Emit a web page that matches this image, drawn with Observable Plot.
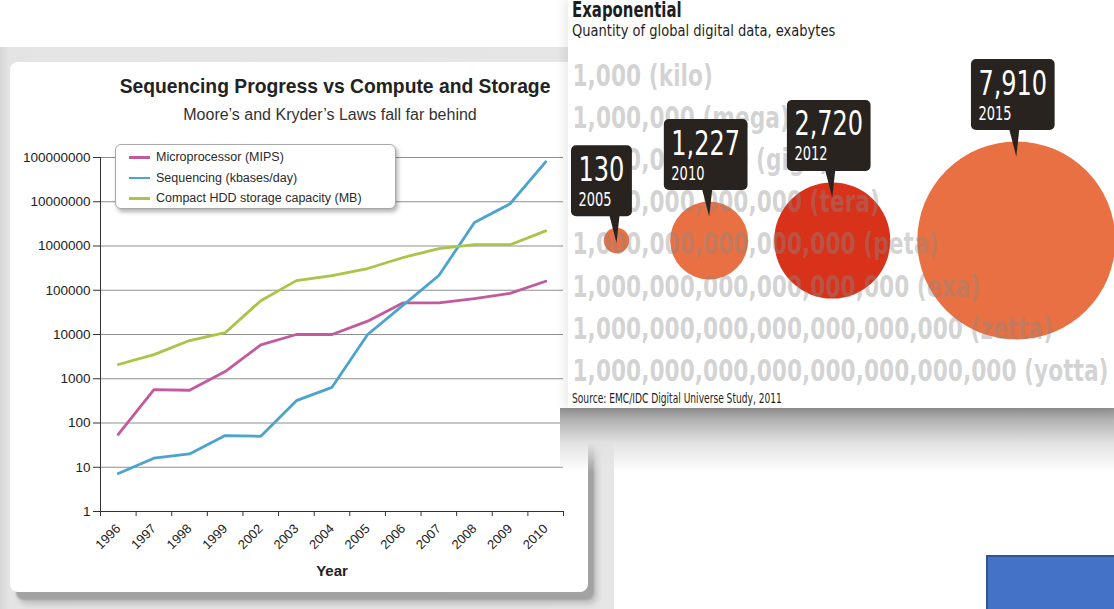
<!DOCTYPE html>
<html>
<head>
<meta charset="utf-8">
<script src="https://cdn.jsdelivr.net/npm/d3@7"></script>
<script src="https://cdn.jsdelivr.net/npm/@observablehq/plot@0.6"></script>
<style>
html,body{margin:0;padding:0;background:#fff;}
#page{position:relative;width:1114px;height:609px;overflow:hidden;background:#fff;font-family:"Liberation Sans",Arial,Helvetica,sans-serif;}
.abs{position:absolute;}
#graybg{left:0;top:47px;width:614px;height:562px;background:linear-gradient(90deg,#d4d4d4 0,#e4e4e4 9px,#e6e6e6 100%);}
#card{left:10px;top:62px;width:578px;height:530px;background:#fff;border-radius:8px;box-shadow:6px 8px 2px #a2a2a2, 9px 12px 6px rgba(0,0,0,.18);}
#ltitle{left:35px;top:76px;width:600px;text-align:center;font-weight:bold;font-size:19.3px;color:#222;white-space:nowrap;}
#lsub{left:30px;top:106px;width:600px;text-align:center;font-size:16px;color:#333;white-space:nowrap;}
#legend{left:115px;top:144px;width:279px;height:63px;background:#fff;border:1px solid #a8a8a8;border-radius:6px;box-shadow:2px 3px 4px rgba(0,0,0,.3);}
.li{position:absolute;left:40px;font-size:12.5px;color:#2a2a2a;white-space:nowrap;line-height:14px;}
.sw{position:absolute;left:13px;width:21px;height:2.6px;}
#year{left:282px;top:562px;width:100px;text-align:center;font-weight:bold;font-size:15px;color:#222;}
#rpanel{left:568px;top:0;width:546px;height:408px;background:#fff;box-shadow:-5px 0 8px rgba(0,0,0,.07);}
#rshadow{left:560px;top:408px;width:554px;height:64px;background:linear-gradient(#8e8e8e 0,#b4b4b4 20%,#e2e2e2 55%,rgba(255,255,255,0) 100%);}
#rtitle{left:572px;top:-2px;font-weight:bold;font-size:21px;color:#1e1e1e;white-space:nowrap;transform-origin:0 0;transform:scaleX(0.79);}
#rsub{left:572px;top:21px;font-size:16.5px;color:#1e1e1e;white-space:nowrap;transform-origin:0 0;transform:scaleX(0.88);}
#rsource{left:572px;top:390px;font-size:13.5px;color:#1e1e1e;white-space:nowrap;transform-origin:0 0;transform:scaleX(0.75);}
.narrow{font-family:"Liberation Sans Narrow","DejaVu Sans Condensed","Arial Narrow",sans-serif;}
#blue{left:986px;top:555px;width:140px;height:60px;background:#4472c4;border:2px solid #2f5597;}
</style>
</head>
<body>
<div id="page">
  <div id="graybg" class="abs"></div>
  <div id="card" class="abs"></div>
  <div id="leftplot" class="abs" style="left:0;top:140px;"></div>
  <div id="ltitle" class="abs"></div>
  <div id="lsub" class="abs"></div>
  <div id="legend" class="abs"></div>
  <div id="year" class="abs"></div>
  <div id="rshadow" class="abs"></div>
  <div id="rpanel" class="abs"></div>
  <div id="rightplot" class="abs" style="left:568px;top:0;"></div>
  <div id="rtitle" class="abs narrow"></div>
  <div id="rsub" class="abs narrow"></div>
  <div id="rsource" class="abs narrow"></div>
  <div id="blue" class="abs"></div>
</div>
<script>
// ---------- LEFT CHART DATA ----------
const leftTitle = "Sequencing Progress vs Compute and Storage";
const leftSubtitle = "Moore\u2019s and Kryder\u2019s Laws fall far behind";
const xTitle = "Year";
const years = ["1996","1997","1998","1999","2002","2003","2004","2005","2006","2007","2008","2009","2010"];
const mips       = [55, 570, 550, 1450, 5800, 10000, 10000, 20000, 52000, 52000, 65000, 85000, 160000];
const sequencing = [7.2, 16, 20, 52, 50, 320, 640, 10000, 46000, 215000, 3400000, 9000000, 80000000];
const hdd        = [2100, 3500, 7300, 11000, 58000, 165000, 215000, 310000, 550000, 870000, 1070000, 1070000, 2200000];
const seriesNames = ["Microprocessor (MIPS)", "Sequencing (kbases/day)", "Compact HDD storage capacity (MB)"];
const seriesColors = ["#c25a9e", "#4ba3ce", "#a9c447"];
const yTicks = [1, 10, 100, 1000, 10000, 100000, 1000000, 10000000, 100000000];

// ---------- RIGHT CHART DATA ----------
const rightTitle = "Exaponential";
const rightSubtitle = "Quantity of global digital data, exabytes";
const rightSource = "Source: EMC/IDC Digital Universe Study, 2011";
const unitLabels = [
  "1,000 (kilo)",
  "1,000,000 (mega)",
  "1,000,000,000 (giga)",
  "1,000,000,000,000 (tera)",
  "1,000,000,000,000,000 (peta)",
  "1,000,000,000,000,000,000 (exa)",
  "1,000,000,000,000,000,000,000 (zetta)",
  "1,000,000,000,000,000,000,000,000 (yotta)"
];
const bubbleYears = ["2005", "2010", "2012", "2015"];
const bubbleValues = [130, 1227, 2720, 7910];
const bubbleLabels = ["130", "1,227", "2,720", "7,910"];
const highlightYear = "2012";

// ---------- LEFT CHART ----------
document.getElementById("ltitle").textContent = leftTitle;
document.getElementById("lsub").textContent = leftSubtitle;
document.getElementById("year").textContent = xTitle;

const lineData = [];
[mips, sequencing, hdd].forEach((vals, k) => vals.forEach((v, i) => lineData.push({series: seriesNames[k], i, value: v})));

const leftFont = '"Liberation Sans", Arial, Helvetica, sans-serif';
const leftPlot = Plot.plot({
  width: 600, height: 460,
  marginLeft: 100, marginRight: 37, marginTop: 17, marginBottom: 89,
  style: {fontFamily: leftFont, fontSize: "12px", color: "#222", background: "transparent", overflow: "visible"},
  x: {domain: [-0.5, years.length - 0.5], label: null},
  y: {type: "log", domain: [1, 1e8], label: null},
  color: {domain: seriesNames, range: seriesColors},
  marks: [
    Plot.gridY(yTicks, {stroke: "#8e8e8e", strokeOpacity: 1, strokeWidth: 1}),
    Plot.axisY(yTicks, {tickFormat: d => String(d), tickSize: 7, tickPadding: 3, fontSize: 13.5, stroke: "#333", label: null}),
    Plot.axisX(d3.range(years.length + 1).map(i => i - 0.5), {tickFormat: () => "", tickSize: 5, stroke: "#333", label: null}),
    Plot.axisX(d3.range(years.length), {tickFormat: i => years[i], tickSize: 0, tickPadding: 15, tickRotate: -45, fontSize: 13, label: null}),
    Plot.ruleX([-0.5], {stroke: "#333"}),
    Plot.ruleY([1], {stroke: "#333"}),
    Plot.line(lineData, {x: "i", y: "value", z: "series", stroke: "series", strokeWidth: 2.8})
  ]
});
document.getElementById("leftplot").appendChild(leftPlot);

// legend
const legend = document.getElementById("legend");
seriesNames.forEach((s, k) => {
  const top = 5 + k * 20.5;
  const sw = document.createElement("div");
  sw.className = "sw"; sw.style.top = (top + 6) + "px"; sw.style.background = seriesColors[k];
  legend.appendChild(sw);
  const t = document.createElement("div");
  t.className = "li"; t.style.top = top + "px"; t.textContent = s;
  legend.appendChild(t);
});

// ---------- RIGHT CHART ----------
document.getElementById("rtitle").textContent = rightTitle;
document.getElementById("rsub").textContent = rightSubtitle;
document.getElementById("rsource").textContent = rightSource;

const narrow = '"Liberation Sans Narrow","DejaVu Sans Condensed","Arial Narrow",sans-serif';
const ctx = document.createElement("canvas").getContext("2d");
function textWidth(text, font) { ctx.font = font; return ctx.measureText(text).width; }
// condensed (Myriad-like) widths: digits ~0.45em, comma ~0.22em
function condensedWidth(text, size) {
  let w = 0;
  for (const ch of text) w += (ch === "," ? 0.22 : 0.45) * size;
  return w;
}
const numSize = 34, yrSize = 20;
const rowFont = `bold 31px ${narrow}`;

const rMax = 99;
const rScale = Plot.scale({r: {type: "sqrt", domain: [0, d3.max(bubbleValues)], range: [0, rMax]}});
const cy = 240;
const gaps = [41, 26, 27];
const bubbles = bubbleValues.map((v, i) => ({year: bubbleYears[i], value: v, label: bubbleLabels[i]}));
let cx = 48;
bubbles.forEach((b, i) => {
  b.r = rScale.apply(b.value);
  if (i > 0) cx += bubbles[i - 1].r + gaps[i - 1] + b.r;
  b.cx = cx; b.cy = cy;
  const top = b.cy - b.r;
  b.numW = condensedWidth(b.label, numSize);
  b.yrW = condensedWidth(b.year, yrSize) * 0.92;
  b.w = Math.max(b.numW, b.yrW) + 15;
  b.y2 = top - 11; b.y1 = b.y2 - 71;
  let x1 = b.cx - 3 - b.w / 2;
  if (x1 < 20) x1 = 3;
  b.x1 = x1; b.x2 = x1 + b.w;
  b.tip = top + 15;
});
const pointers = [];
bubbles.forEach((b, k) => {
  pointers.push({id: k, x: b.cx - 7, y: b.y2 - 1});
  pointers.push({id: k, x: b.cx + 3, y: b.y2 - 1});
  pointers.push({id: k, x: b.cx, y: b.tip});
});

const rowTop = 85, rowStep = 42.2;
const rightPlot = Plot.plot({
  width: 546, height: 408, margin: 0,
  style: {background: "transparent", fontFamily: narrow, overflow: "visible"},
  x: {type: "identity", axis: null},
  y: {type: "identity", axis: null},
  r: {type: "sqrt", domain: [0, d3.max(bubbleValues)], range: [0, rMax]},
  marks: [
    Plot.dot(bubbles, {x: "cx", y: "cy", r: "value", fill: d => d.year === highlightYear ? "#d8321a" : "#e87042", stroke: null}),
    Plot.text(unitLabels, {x: () => 4, y: (d, i) => rowTop + i * rowStep, text: d => d, textAnchor: "start", lineAnchor: "bottom",
      fontSize: 31, fontWeight: "bold", fill: "#8a8a8a", fillOpacity: 0.38}),
    Plot.line(pointers, {x: "x", y: "y", z: "id", fill: "#28231e", stroke: null}),
    Plot.rect(bubbles, {x1: "x1", x2: "x2", y1: "y1", y2: "y2", rx: 5, fill: "#28231e"}),
    Plot.text(bubbles, {x: d => d.x1 + 7, y: d => d.y1 + 35, text: "label", textAnchor: "start", lineAnchor: "bottom", fontSize: numSize, fill: "#fff"}),
    Plot.text(bubbles, {x: d => d.x1 + 7, y: d => d.y1 + 60, text: "year", textAnchor: "start", lineAnchor: "bottom", fontSize: yrSize, fill: "#fff"})
  ]
});
document.getElementById("rightplot").appendChild(rightPlot);

// fit texts to condensed widths
const targetYotta = 536;
const scaleW = targetYotta / textWidth(unitLabels[unitLabels.length - 1], rowFont);
const numByLabel = new Map(bubbles.map(b => [b.label, b.numW]));
const yrByLabel = new Map(bubbles.map(b => [b.year, b.yrW]));
rightPlot.querySelectorAll("text").forEach(t => {
  const s = t.textContent;
  let L = null;
  if (unitLabels.includes(s)) L = textWidth(s, rowFont) * scaleW;
  else if (numByLabel.has(s)) L = numByLabel.get(s);
  else if (yrByLabel.has(s)) L = yrByLabel.get(s);
  if (L != null) {
    t.setAttribute("textLength", L.toFixed(1));
    t.setAttribute("lengthAdjust", "spacingAndGlyphs");
  }
});
</script>
</body>
</html>
